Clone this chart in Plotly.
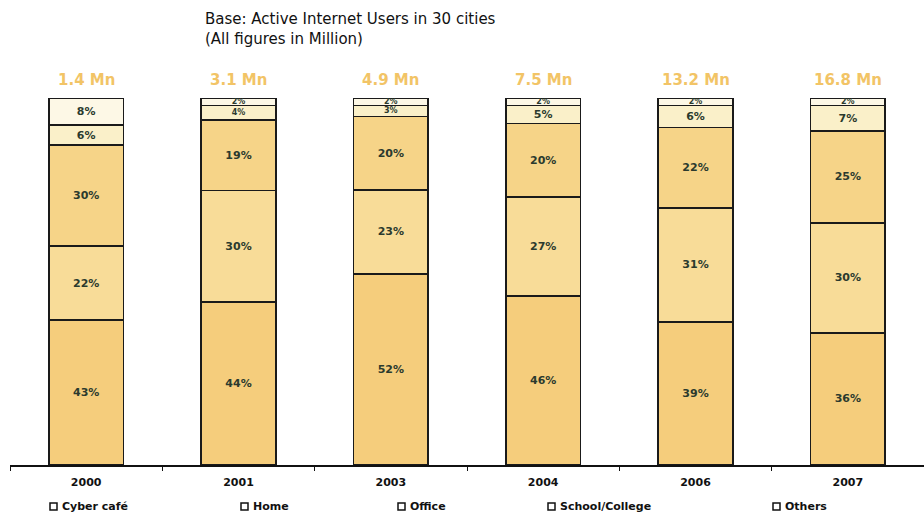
import plotly.graph_objects as go

# Survey years and total active users
years = ["2000", "2001", "2003", "2004", "2006", "2007"]
totals = ["1.4 Mn", "3.1 Mn", "4.9 Mn", "7.5 Mn", "13.2 Mn", "16.8 Mn"]

# Share of users by point of access (%), stacked bottom to top
cyber_cafe = [43, 44, 52, 46, 39, 36]
home = [22, 30, 23, 27, 31, 30]
office = [30, 19, 20, 20, 22, 25]
school_college = [6, 4, 3, 5, 6, 7]
others = [8, 2, 2, 2, 2, 2]

series = [
    ("Cyber café", cyber_cafe, "#f5cd7c"),
    ("Home", home, "#f8dc98"),
    ("Office", office, "#f6d488"),
    ("School/College", school_college, "#faf0c9"),
    ("Others", others, "#fdf8e6"),
]

fig = go.Figure()
for name, vals, color in series:
    fig.add_trace(go.Bar(
        x=years, y=vals, name=name,
        marker=dict(color=color, line=dict(color="#1a1a1a", width=1.5)),
        text=[f"{v}%" for v in vals],
        textposition="inside",
        insidetextanchor="middle",
        constraintext="none",
        textangle=0,
        textfont=dict(family="DejaVu Sans", weight="bold",
                      size=[11 if v >= 5 else 8 for v in vals], color="#2b3a2e"),
        showlegend=False,
    ))

# Total users above each bar
for i, t in enumerate(totals):
    fig.add_annotation(x=i, y=100, xref="x", yref="y", text=t, showarrow=False,
                       yanchor="bottom", yshift=7,
                       font=dict(family="DejaVu Sans", size=15, weight="bold", color="#f2c466"))

# Heading
fig.add_annotation(xref="paper", yref="paper", x=(203 - 10) / 914, y=1,
                   text="Base: Active Internet Users in 30 cities<br>(All figures in Million)",
                   showarrow=False, xanchor="left", yanchor="bottom", yshift=48, align="left",
                   font=dict(family="DejaVu Sans", size=15, color="#111111"))

# Legend row: hollow squares with labels
legend_items = [("Cyber café", 50), ("Home", 241), ("Office", 398), ("School/College", 548), ("Others", 773)]
for label, px in legend_items:
    xp = (px - 10) / 914
    fig.add_shape(type="rect", xref="paper", yref="paper",
                  x0=xp, x1=xp + 7 / 914, y0=-(503 - 465) / 367 - 7 / 367, y1=-(503 - 465) / 367,
                  line=dict(color="#111111", width=1.5), fillcolor="white")
    fig.add_annotation(xref="paper", yref="paper", x=xp + 10 / 914, y=-(507 - 465) / 367,
                       text=label, showarrow=False, xanchor="left", yanchor="middle",
                       font=dict(family="DejaVu Sans", size=11, weight="bold", color="#111111"))

fig.update_layout(
    width=924, height=515,
    margin=dict(l=10, r=0, t=98, b=50),
    barmode="stack", barnorm="percent", bargap=0.51,
    paper_bgcolor="white", plot_bgcolor="white",
    font=dict(family="DejaVu Sans"),
    xaxis=dict(type="category", categoryorder="array", categoryarray=years,
               range=[-0.5, 5.5], tickson="boundaries", ticks="outside", ticklen=4,
               ticklabelstandoff=6,
               tickcolor="#111111", showline=True, linecolor="#111111", linewidth=2,
               showgrid=False,
               tickfont=dict(family="DejaVu Sans", size=11, weight="bold", color="#111111")),
    yaxis=dict(range=[0, 100], visible=False, showgrid=False),
)

fig.write_html("out.html")
